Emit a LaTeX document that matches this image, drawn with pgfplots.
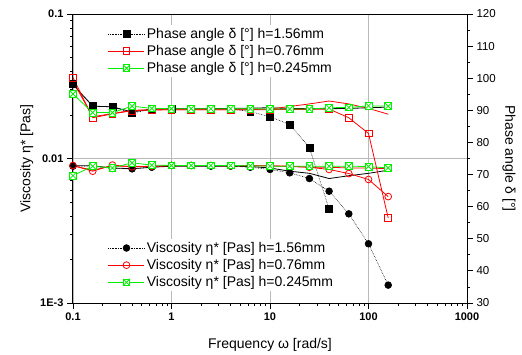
\documentclass[border=0pt]{standalone}
\usepackage{pgfplots}
\pgfplotsset{compat=1.18}
\usepackage{fontspec}
\setmainfont{Liberation Sans}
\usetikzlibrary{plotmarks}
\definecolor{pgreen}{RGB}{0,240,0}
\pgfdeclareplotmark{boxx}{%
  \pgfpathrectangle{\pgfqpoint{-\pgfplotmarksize}{-\pgfplotmarksize}}{\pgfqpoint{2\pgfplotmarksize}{2\pgfplotmarksize}}%
  \pgfusepathqfillstroke
  \pgfpathmoveto{\pgfqpoint{-\pgfplotmarksize}{-\pgfplotmarksize}}\pgfpathlineto{\pgfqpoint{\pgfplotmarksize}{\pgfplotmarksize}}%
  \pgfpathmoveto{\pgfqpoint{-\pgfplotmarksize}{\pgfplotmarksize}}\pgfpathlineto{\pgfqpoint{\pgfplotmarksize}{-\pgfplotmarksize}}%
  \pgfusepathqstroke}
\pgfplotsset{
  legend image code/.code={\draw[mark repeat=2,mark phase=2,#1] plot coordinates {(0pt,0pt) (18pt,0pt) (36pt,0pt)};},
  sblk/.style={black, line width=0.6pt, densely dotted, mark options={solid}},
  sred/.style={red, line width=0.8pt, mark options={solid, fill=white}},
  sgrn/.style={pgreen, line width=0.8pt, mark=boxx, mark size=3.4pt, mark options={solid, fill=white}},
}
\begin{document}
\begin{tikzpicture}
\begin{axis}[name=main,
  scale only axis, width=394pt, height=289pt,
  xmode=log, ymode=log,
  xmin=0.1, xmax=1000, ymin=0.001, ymax=0.1,
  xtick={0.1,1,10,100,1000}, xticklabels={0.1,1,10,100,1000},
  ytick={0.001,0.01,0.1}, yticklabels={1E-3,0.01,0.1},
  xtick pos=bottom, ytick pos=left, tick align=outside,
  major tick length=6pt, minor tick length=3pt,
  tick style={black, line width=0.8pt},
  axis line style={line width=1pt},
  grid=major, major grid style={gray!55, line width=0.9pt},
  /pgf/number format/assume math mode=true,
  tick label style={font=\fontsize{11}{13}\selectfont\bfseries},
  xlabel={Frequency ω [rad/s]}, ylabel={Viscosity η* [Pas]},
  label style={font=\fontsize{14}{16}\selectfont},
  xlabel style={yshift=-11pt},
  legend style={draw=none, fill=white, at={(axis description cs:0.086,0.2215)}, anchor=north west,
    font=\fontsize{14}{16}\selectfont, row sep=1.5pt, inner sep=1pt},
  legend cell align=left,
]
% extra unlabelled series
\addplot[black, line width=0.8pt, forget plot] coordinates {(0.1,0.0089) (0.1585,0.0089) (0.2512,0.0086) (0.3981,0.0085) (0.631,0.0087) (1,0.00885) (1.585,0.00885) (2.512,0.00885) (3.981,0.00885) (6.31,0.0088) (10,0.0086) (15.85,0.00817) (25.12,0.0079) (39.81,0.00727) (63.1,0.0076) (100,0.0079) (158.5,0.0083)};
\addplot[red, line width=0.8pt, forget plot] coordinates {(0.1,0.0089) (0.1585,0.0083) (0.2512,0.0089) (0.3981,0.0088) (0.631,0.0088) (1,0.0089) (1.585,0.0089) (2.512,0.0089) (3.981,0.0089) (6.31,0.0089) (10,0.0089) (15.85,0.0088) (25.12,0.0087) (39.81,0.0087) (63.1,0.0086) (100,0.0086) (158.5,0.0085)};
\addplot[sblk, mark=*, mark size=3.4pt] coordinates {(0.1,0.00885) (0.1585,0.00885) (0.2512,0.00853) (0.3981,0.00848) (0.631,0.0087) (1,0.00895) (1.585,0.00895) (2.512,0.00885) (3.981,0.00885) (6.31,0.0087) (10,0.0084) (15.85,0.00796) (25.12,0.00727) (39.81,0.00594) (63.1,0.00414) (100,0.00257) (158.5,0.00133)};
\addlegendentry{Viscosity η* [Pas] h=1.56mm}
\addplot[sred, mark=o, mark size=3.4pt] coordinates {(0.1,0.00895) (0.1585,0.00817) (0.2512,0.0090) (0.3981,0.00876) (0.631,0.00885) (1,0.00895) (1.585,0.00895) (2.512,0.00895) (3.981,0.0089) (6.31,0.0089) (10,0.0089) (15.85,0.00885) (25.12,0.0087) (39.81,0.0084) (63.1,0.00787) (100,0.00716) (158.5,0.00545)};
\addlegendentry{Viscosity η* [Pas] h=0.76mm}
\addplot[sgrn] coordinates {(0.1,0.00762) (0.1585,0.00885) (0.2512,0.0086) (0.3981,0.00934) (0.631,0.009) (1,0.00895) (1.585,0.00895) (2.512,0.00895) (3.981,0.00895) (6.31,0.0089) (10,0.00885) (15.85,0.00885) (25.12,0.00885) (39.81,0.00885) (63.1,0.00885) (100,0.0088) (158.5,0.0086)};
\addlegendentry{Viscosity η* [Pas] h=0.245mm}
\end{axis}
\begin{axis}[
  scale only axis, width=394pt, height=289pt,
  xmode=log, xmin=0.1, xmax=1000, ymin=30, ymax=120,
  axis x line=none, axis y line*=right,
  ytick={30,40,...,120}, minor y tick num=1,
  tick align=outside, major tick length=6pt, minor tick length=3pt,
  tick style={black, line width=0.8pt},
  axis line style={line width=1pt},
  /pgf/number format/assume math mode=true,
  tick label style={font=\fontsize{11.5}{13}\selectfont},
  ylabel={Phase angle δ [°]},
  ylabel style={font=\fontsize{14}{16}\selectfont, rotate=180},
  legend style={draw=none, fill=white, at={(axis description cs:0.086,0.962)}, anchor=north west,
    font=\fontsize{14}{16}\selectfont, row sep=1.5pt, inner sep=1pt},
  legend cell align=left,
]
\addplot[black, line width=0.8pt, forget plot] coordinates {(0.1,98.0) (0.1585,91.3) (0.2512,91.1) (0.3981,89.5) (0.631,90.4) (1,90.5) (1.585,90.5) (2.512,90.5) (3.981,90.6) (6.31,90.7) (10,90.8) (15.85,90.6) (25.12,90.5) (39.81,90.5) (63.1,90.6) (100,90.8) (158.5,91.0)};
\addplot[red, line width=0.8pt, forget plot] coordinates {(0.1,99.0) (0.1585,88.0) (0.2512,89.0) (0.3981,90.0) (0.631,90.2) (1,90.2) (1.585,90.2) (2.512,90.2) (3.981,90.2) (6.31,90.2) (10,90.4) (15.85,91.2) (25.12,92.0) (39.81,92.9) (63.1,92.0) (100,90.6) (158.5,88.8)};
\addplot[sblk, mark=square*, mark size=3.4pt] coordinates {(0.1,98.2) (0.1585,91.3) (0.2512,91.1) (0.3981,89.1) (0.631,90.4) (1,90.5) (1.585,90.5) (2.512,90.5) (3.981,90.5) (6.31,89.6) (10,88.0) (15.85,85.6) (25.12,78.4) (39.81,59.3)};
\addlegendentry{Phase angle δ [°] h=1.56mm}
\addplot[sred, mark=square, mark size=3.4pt] coordinates {(0.1,100.2) (0.1585,87.7) (0.2512,88.9) (0.3981,89.9) (0.631,90.1) (1,90.2) (1.585,90.2) (2.512,90.2) (3.981,90.2) (6.31,90.2) (10,90.2) (15.85,90.3) (25.12,90.3) (39.81,90.4) (63.1,87.7) (100,82.8) (158.5,56.5)};
\addlegendentry{Phase angle δ [°] h=0.76mm}
\addplot[sgrn] coordinates {(0.1,95.1) (0.1585,89.3) (0.2512,89.3) (0.3981,91.3) (0.631,90.6) (1,90.5) (1.585,90.5) (2.512,90.5) (3.981,90.5) (6.31,90.5) (10,90.4) (15.85,90.4) (25.12,90.4) (39.81,90.8) (63.1,90.9) (100,91.4) (158.5,91.3)};
\addlegendentry{Phase angle δ [°] h=0.245mm}
\end{axis}
\path (main.south west) ++(-73pt,-51pt) rectangle ++(522pt,354pt);
\end{tikzpicture}
\end{document}
